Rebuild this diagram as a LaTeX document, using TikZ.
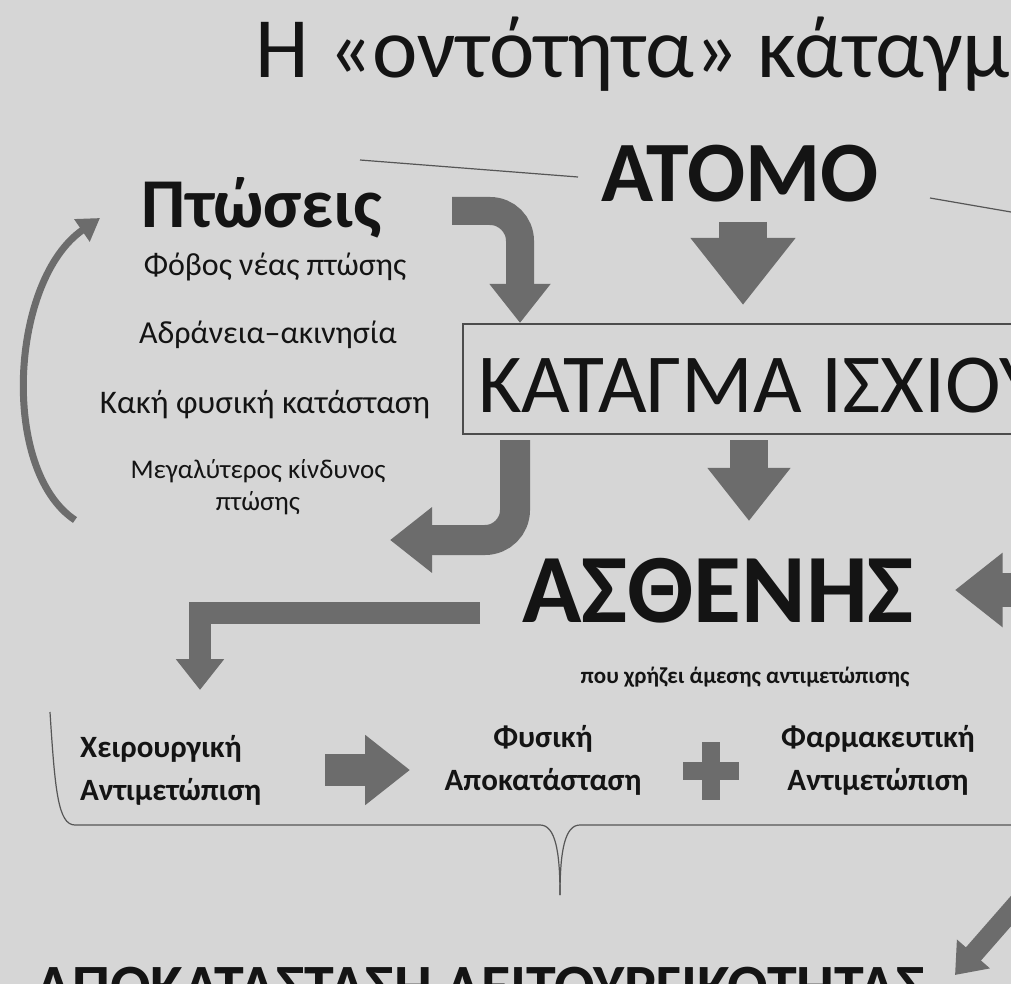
\documentclass[tikz,border=0pt]{standalone}
\usepackage{fontspec}
\setmainfont{Carlito}
\usetikzlibrary{arrows.meta}
\definecolor{bgcol}{RGB}{214,214,214}
\definecolor{arrcol}{RGB}{108,108,108}
\definecolor{txtcol}{RGB}{20,20,20}
\tikzset{
  fat/.style={draw=arrcol,line width=#1,-{Triangle[width=2.1*#1,length=1.4*#1]}},
  fat/.default=28pt,
  thinline/.style={draw=arrcol!80!black,line width=1.2pt},
  lbl/.style={inner sep=0pt,text=txtcol,font=\bfseries\fontsize{22}{26}\selectfont,align=center}
}
\begin{document}
\begin{tikzpicture}[x=1pt,y=-1pt]
\useasboundingbox (0,0) rectangle (1011,984);
\clip (0,0) rectangle (1011,984);
\fill[bgcol] (0,0) rectangle (1011,984);

% title and headers
\node[anchor=base west,inner sep=0pt,text=txtcol,font=\fontsize{86}{88}\selectfont] (title) at (255,78) {Η «οντότητα» κάταγμα};
\node[anchor=base,inner sep=0pt,text=txtcol,font=\bfseries\fontsize{86}{88}\selectfont] (atomo) at (740,202) {ΑΤΟΜΟ};
\node[anchor=base,inner sep=0pt,text=txtcol,font=\bfseries\fontsize{70}{72}\selectfont] (ptoseis) at (262,228) {Πτώσεις};

% left column
\node[lbl,anchor=base,font=\fontsize{32}{34}\selectfont] (fovos) at (275,275) {Φόβος νέας πτώσης};
\node[lbl,anchor=base,font=\fontsize{32}{34}\selectfont] (adraneia) at (268,343) {Αδράνεια--ακινησία};
\node[lbl,anchor=base,font=\fontsize{33}{34}\selectfont] (kaki) at (265,413) {Κακή φυσική κατάσταση};
\node[lbl,anchor=base,font=\fontsize{27}{32}\selectfont] (megal) at (258,510) {Μεγαλύτερος κίνδυνος\\πτώσης};

% fracture box
\node[draw=arrcol!70!black,line width=1.5pt,anchor=north west,minimum width=620pt,minimum height=110pt,inner sep=0pt] (box) at (462,323) {};
\node[anchor=base west,inner sep=0pt,text=txtcol,font=\fontsize{84}{86}\selectfont] (katagma) at (478,412) {ΚΑΤΑΓΜΑ ΙΣΧΙΟΥ};

% patient
\node[anchor=base,inner sep=0pt,text=txtcol,font=\bfseries\fontsize{98}{100}\selectfont] (asthenis) at (718,622) {ΑΣΘΕΝΗΣ};
\node[lbl,anchor=base,font=\bfseries\fontsize{23}{26}\selectfont] (amesis) at (745,683) {που χρήζει άμεσης αντιμετώπισης};

% treatments
\node[lbl,anchor=base west,font=\bfseries\fontsize{31}{43}\selectfont,align=left] (xeir) at (80,800) {Χειρουργική\\Αντιμετώπιση};
\node[lbl,anchor=base,font=\bfseries\fontsize{31}{43}\selectfont] (fysiki) at (543,790) {Φυσική\\Αποκατάσταση};
\node[lbl,anchor=base,font=\bfseries\fontsize{31}{43}\selectfont] (farm) at (878,790) {Φαρμακευτική\\Αντιμετώπιση};
\node[anchor=base,inner sep=0pt,text=txtcol,font=\bfseries\fontsize{60}{62}\selectfont] (apok) at (480,1006) {ΑΠΟΚΑΤΑΣΤΑΣΗ ΛΕΙΤΟΥΡΓΙΚΟΤΗΤΑΣ};

% plus sign
\fill[arrcol] (702,742) rectangle (720,800);
\fill[arrcol] (683,762) rectangle (739,780);

% thin lines
\draw[thinline] (360,160) -- (578,177);
\draw[thinline] (930,198) -- (1011,212);
\draw[thinline] (50,712) .. controls (55,790) and (58,825) .. (75,825) -- (540,825)
  .. controls (555,825) and (560,850) .. (560,895);
\draw[thinline] (560,895) .. controls (560,850) and (565,825) .. (580,825) -- (1011,825);

% fat arrows
\draw[fat=48pt] (743,222) -- (743,305);
\draw[fat=38pt] (749,440) -- (749,521);
\draw[fat=28pt,rounded corners=30pt] (452,211) -- (520,211) -- (520,323);
\draw[fat=30pt,rounded corners=30pt] (515,440) -- (515,540) -- (390,540);
\draw[fat=22pt] (480,613) -- (200,613) -- (200,690);
\draw[fat=32pt] (325,770) -- (410,770);
\draw[fat=34pt] (1020,590) -- (955,590);
\draw[fat=20pt] (1025,895) -- (955,975);
\draw[draw=arrcol,line width=7pt,-{Triangle[width=26pt,length=22pt]}] (75,520) .. controls (0,470) and (10,280) .. (100,218);
\end{tikzpicture}
\end{document}
